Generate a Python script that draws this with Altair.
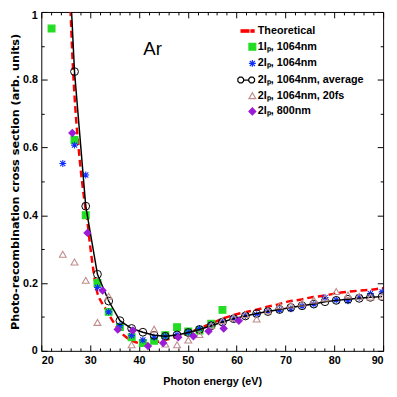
import altair as alt
import pandas as pd

# ---------------- data ----------------
THEO_X = [25.9, 26.0, 26.5, 27.0, 27.5, 28.0, 28.5, 29.0, 29.5, 30.0, 30.5, 31.0, 31.5, 32.0,
          33.0, 34.0, 35.0, 36.0, 37.0, 38.0, 39.0, 40.0, 41.0, 42.0, 43.0, 44.0, 45.0, 47.0,
          49.0, 51.0, 53.0, 55.0, 57.5, 60.0, 62.0, 64.3, 66.3, 68.7, 70.7, 73.0, 75.0, 77.0,
          79.0, 81.4, 83.8, 86.2, 88.4, 90.0]
THEO_Y = [1.04, 1.00, 0.83, 0.71, 0.62, 0.545, 0.48, 0.425, 0.375, 0.31, 0.255, 0.205, 0.17, 0.152,
          0.128, 0.103, 0.080, 0.060, 0.045, 0.034, 0.027, 0.023, 0.021, 0.021, 0.024, 0.027, 0.031, 0.038,
          0.047, 0.058, 0.070, 0.082, 0.097, 0.108, 0.115, 0.122, 0.130, 0.138, 0.146, 0.151, 0.157, 0.161,
          0.166, 0.172, 0.176, 0.179, 0.182, 0.185]

G_X = [22.1, 26.8, 29.1, 31.5, 33.8, 36.1, 38.5, 40.8, 43.1, 45.4, 47.8, 50.1, 52.4, 54.8, 57.1]
G_Y = [0.951, 0.622, 0.400, 0.200, 0.115, 0.070, 0.040, 0.023, 0.030, 0.046, 0.070, 0.057, 0.060, 0.080, 0.121]

B_X = [24.4, 26.8, 29.1, 31.5, 33.8, 36.1, 38.5, 40.8, 43.1, 45.4, 47.8, 50.1, 52.4, 54.8, 57.1,
       59.4, 61.8, 64.1, 66.4, 68.8, 71.1, 73.4, 75.8, 78.1, 80.4, 82.8, 85.1, 87.4, 89.8]
B_Y = [0.553, 0.607, 0.519, 0.187, 0.115, 0.075, 0.045, 0.032, 0.040, 0.043, 0.048, 0.055, 0.066, 0.078, 0.086,
       0.095, 0.104, 0.107, 0.118, 0.121, 0.124, 0.132, 0.138, 0.157, 0.150, 0.148, 0.158, 0.169, 0.174]

A_X = [24.4, 26.8, 29.1, 31.5, 33.8, 36.1, 38.5, 40.8, 43.1, 45.4, 47.8, 50.1, 52.4, 54.8, 57.1,
       59.4, 61.8, 64.1, 66.4, 68.8, 71.1, 73.4, 75.8, 78.1, 80.4, 82.8, 85.1, 87.4, 89.8]
A_Y = [1.53, 0.824, 0.427, 0.226, 0.147, 0.089, 0.066, 0.055, 0.046, 0.043, 0.047, 0.054, 0.063, 0.074, 0.085,
       0.095, 0.103, 0.110, 0.116, 0.122, 0.128, 0.133, 0.138, 0.145, 0.149, 0.152, 0.155, 0.158, 0.160]

T_X = [24.4, 26.8, 29.1, 31.5, 33.8, 38.5, 43.1, 45.4, 47.8, 50.1, 52.4, 54.8, 57.1, 59.4,
       61.8, 64.1, 66.4, 68.8, 71.1, 73.4, 75.8, 78.1, 80.4, 82.8, 85.1, 87.4, 89.8]
T_Y = [0.285, 0.262, 0.208, 0.084, 0.161, 0.018, 0.064, 0.020, 0.018, 0.032, 0.048, 0.075, 0.089, 0.098,
       0.107, 0.094, 0.118, 0.133, 0.135, 0.141, 0.150, 0.156, 0.175, 0.165, 0.161, 0.159, 0.161]

P_X = [26.35, 29.45, 32.55, 35.65, 38.75, 41.85, 44.95, 48.05, 51.15, 54.25, 57.35, 60.45]
P_Y = [0.643, 0.348, 0.178, 0.063, 0.060, 0.014, 0.023, 0.040, 0.043, 0.058, 0.066, 0.089]

SERIES = ["Theoretical", "1Iₚ, 1064nm", "2Iₚ, 1064nm", "2Iₚ, 1064nm, average",
          "2Iₚ, 1064nm, 20fs", "2Iₚ, 800nm"]

X_MAJOR = [20, 30, 40, 50, 60, 70, 80, 90]
X_TICKS = list(range(20, 91, 2))
Y_MAJOR = [0, 0.2, 0.4, 0.6, 0.8]
Y_TOP = [1.0]
Y_TICKS = [round(i * 0.1, 1) for i in range(11)]

ANNOT_X = [40.9]
ANNOT_Y = [0.873]
ANNOT_T = ["Ar"]

# ---------------- styling ----------------
def octagon(cx, r):
    k = 0.38268 * r
    m = 0.92388 * r
    pts = [(cx + m, k), (cx + k, m), (cx - k, m), (cx - m, k),
           (cx - m, -k), (cx - k, -m), (cx + k, -m), (cx + m, -k)]
    return "M" + " L".join(f"{px:.3f},{py:.3f}" for px, py in pts) + " Z"

THEO_PATH = "M-3.3,-0.35 L-1,-0.35 L-1,0.35 L-3.3,0.35 Z M-0.4,-0.35 L0.5,-0.35 L0.5,0.35 L-0.4,0.35 Z"
AVG_PATH = (octagon(-3.4, 0.9) + " M-2.5,0 L-1.1,0 " + octagon(-0.2, 0.9))
STAR_PATH = "M0,-1 L0,1 M-1,0 L1,0 M-0.75,-0.75 L0.75,0.75 M-0.75,0.75 L0.75,-0.75"
SHAPES = [THEO_PATH, "square", STAR_PATH, AVG_PATH, "triangle-up", "diamond"]
FILLS = ["#ff0000", "#22dd22", "#ffffff00", "#ffffff00", "#ffffff00", "#9a1ad6"]
STROKES = ["#ff0000", "#22dd22", "#1030ff", "#000000", "#c08c8c", "#9a1ad6"]
SIZES = [49, 49, 64, 49, 49, 64]

FONT = "Liberation Sans"
W, H = 349, 346

df_theo = pd.DataFrame({"x": THEO_X, "y": THEO_Y})
df_avg = pd.DataFrame({"x": A_X, "y": A_Y})
df_a = pd.concat([
    pd.DataFrame({"x": G_X, "y": G_Y, "s": SERIES[1]}),
    pd.DataFrame({"x": B_X, "y": B_Y, "s": SERIES[2]}),
])
df_b = pd.concat([
    pd.DataFrame({"x": T_X, "y": T_Y, "s": SERIES[4]}),
    pd.DataFrame({"x": P_X, "y": P_Y, "s": SERIES[5]}),
])
df_txt = pd.DataFrame({"x": ANNOT_X, "y": ANNOT_Y, "t": ANNOT_T})

xs = alt.Scale(domain=[20, 90], nice=False, zero=False)
ys = alt.Scale(domain=[0, 1], nice=False, zero=False)

xmaj_test = "datum.value % 10 === 0"
ymaj_test = "abs(datum.value*5 - round(datum.value*5)) < 0.001"

def tick_axis(orient, values, test, offset):
    return alt.Axis(orient=orient, values=values, labels=False, domain=False, grid=False,
                    title=None, offset=offset, tickColor="black", tickWidth=1,
                    tickSize={"condition": {"test": test, "value": 6}, "value": 3})

x_lab = alt.Axis(orient="bottom", values=X_MAJOR, ticks=False, domain=False, grid=False,
                 labelFont=FONT, labelFontWeight="bold", labelFontSize=11, labelColor="black",
                 labelPadding=4, title="Photon energy (eV)", titleFont=FONT,
                 titleFontWeight="bold", titleFontSize=11, titleColor="black",
                 titleY=34, titleBaseline="alphabetic")
y_lab = alt.Axis(orient="left", values=Y_MAJOR, ticks=False, domain=False, grid=False,
                 format=".1~f", labelFont=FONT, labelFontWeight="bold", labelFontSize=11,
                 labelColor="black", labelPadding=4,
                 title="Photo-recombination cross section (arb. units)",
                 titleFont="DejaVu Sans", titleFontWeight="bold", titleFontSize=11.5,
                 titleColor="black", titleX=-23.5, titleBaseline="alphabetic")
y_top = alt.Axis(orient="left", values=Y_TOP, ticks=False, domain=False, grid=False,
                 format=".1~f", labelFont=FONT, labelFontWeight="bold", labelFontSize=11,
                 labelColor="black", labelPadding=4, labelOffset=4, title=None)

theo = alt.Chart(df_theo).mark_line(color="#ff0000", strokeDash=[7, 4], strokeWidth=2.5,
                                    clip=True, interpolate="monotone").encode(
    x=alt.X("x:Q", scale=xs, axis=x_lab),
    y=alt.Y("y:Q", scale=ys, axis=y_lab),
)

leg = alt.Legend(title=None, orient="none", legendX=210, legendY=14, padding=0,
                 rowPadding=4, symbolStrokeWidth=1.2, labelOffset=0,
                 labelFont=FONT, labelFontWeight="bold", labelFontSize=11,
                 labelColor="black")

def pts(df, xaxis, yaxis):
    return alt.Chart(df).mark_point(opacity=1, clip=True, strokeWidth=1.1).encode(
        x=alt.X("x:Q", scale=xs, axis=xaxis),
        y=alt.Y("y:Q", scale=ys, axis=yaxis),
        shape=alt.Shape("s:N", scale=alt.Scale(domain=SERIES, range=SHAPES), legend=leg),
        fill=alt.Fill("s:N", scale=alt.Scale(domain=SERIES, range=FILLS), legend=leg),
        stroke=alt.Stroke("s:N", scale=alt.Scale(domain=SERIES, range=STROKES), legend=leg),
        size=alt.Size("s:N", scale=alt.Scale(domain=SERIES, range=SIZES), legend=leg),
    )

pts_a = pts(df_a, tick_axis("top", X_TICKS, xmaj_test, -H),
            tick_axis("right", Y_TICKS, ymaj_test, -W))

avg_line = alt.Chart(df_avg).mark_line(color="black", strokeWidth=1.5, clip=True).encode(
    x=alt.X("x:Q", scale=xs, axis=tick_axis("bottom", X_TICKS, xmaj_test, -H)),
    y=alt.Y("y:Q", scale=ys, axis=tick_axis("left", Y_TICKS, ymaj_test, -W)),
)
avg_pts = alt.Chart(df_avg).mark_point(shape="circle", filled=False, color="black", size=64,
                                       strokeWidth=1, opacity=1, clip=True).encode(
    x=alt.X("x:Q", scale=xs, axis=None),
    y=alt.Y("y:Q", scale=ys, axis=None),
)

pts_b = pts(df_b, None, None)

txt = alt.Chart(df_txt).mark_text(align="left", baseline="alphabetic", font=FONT,
                                  fontSize=19, color="black").encode(
    x=alt.X("x:Q", scale=xs, axis=None),
    y=alt.Y("y:Q", scale=ys, axis=y_top),
    text="t:N",
)

chart = alt.layer(theo, pts_a, avg_line, avg_pts, pts_b, txt).resolve_axis(
    x="independent", y="independent"
).properties(
    width=W, height=H,
    autosize=alt.AutoSizeParams(type="none"),
    padding={"left": 34, "top": 0, "right": 6, "bottom": 40},
    background="white",
).configure_view(stroke="black", strokeWidth=1)

chart.save("out.html", embed_options={"renderer": "svg", "actions": False})
